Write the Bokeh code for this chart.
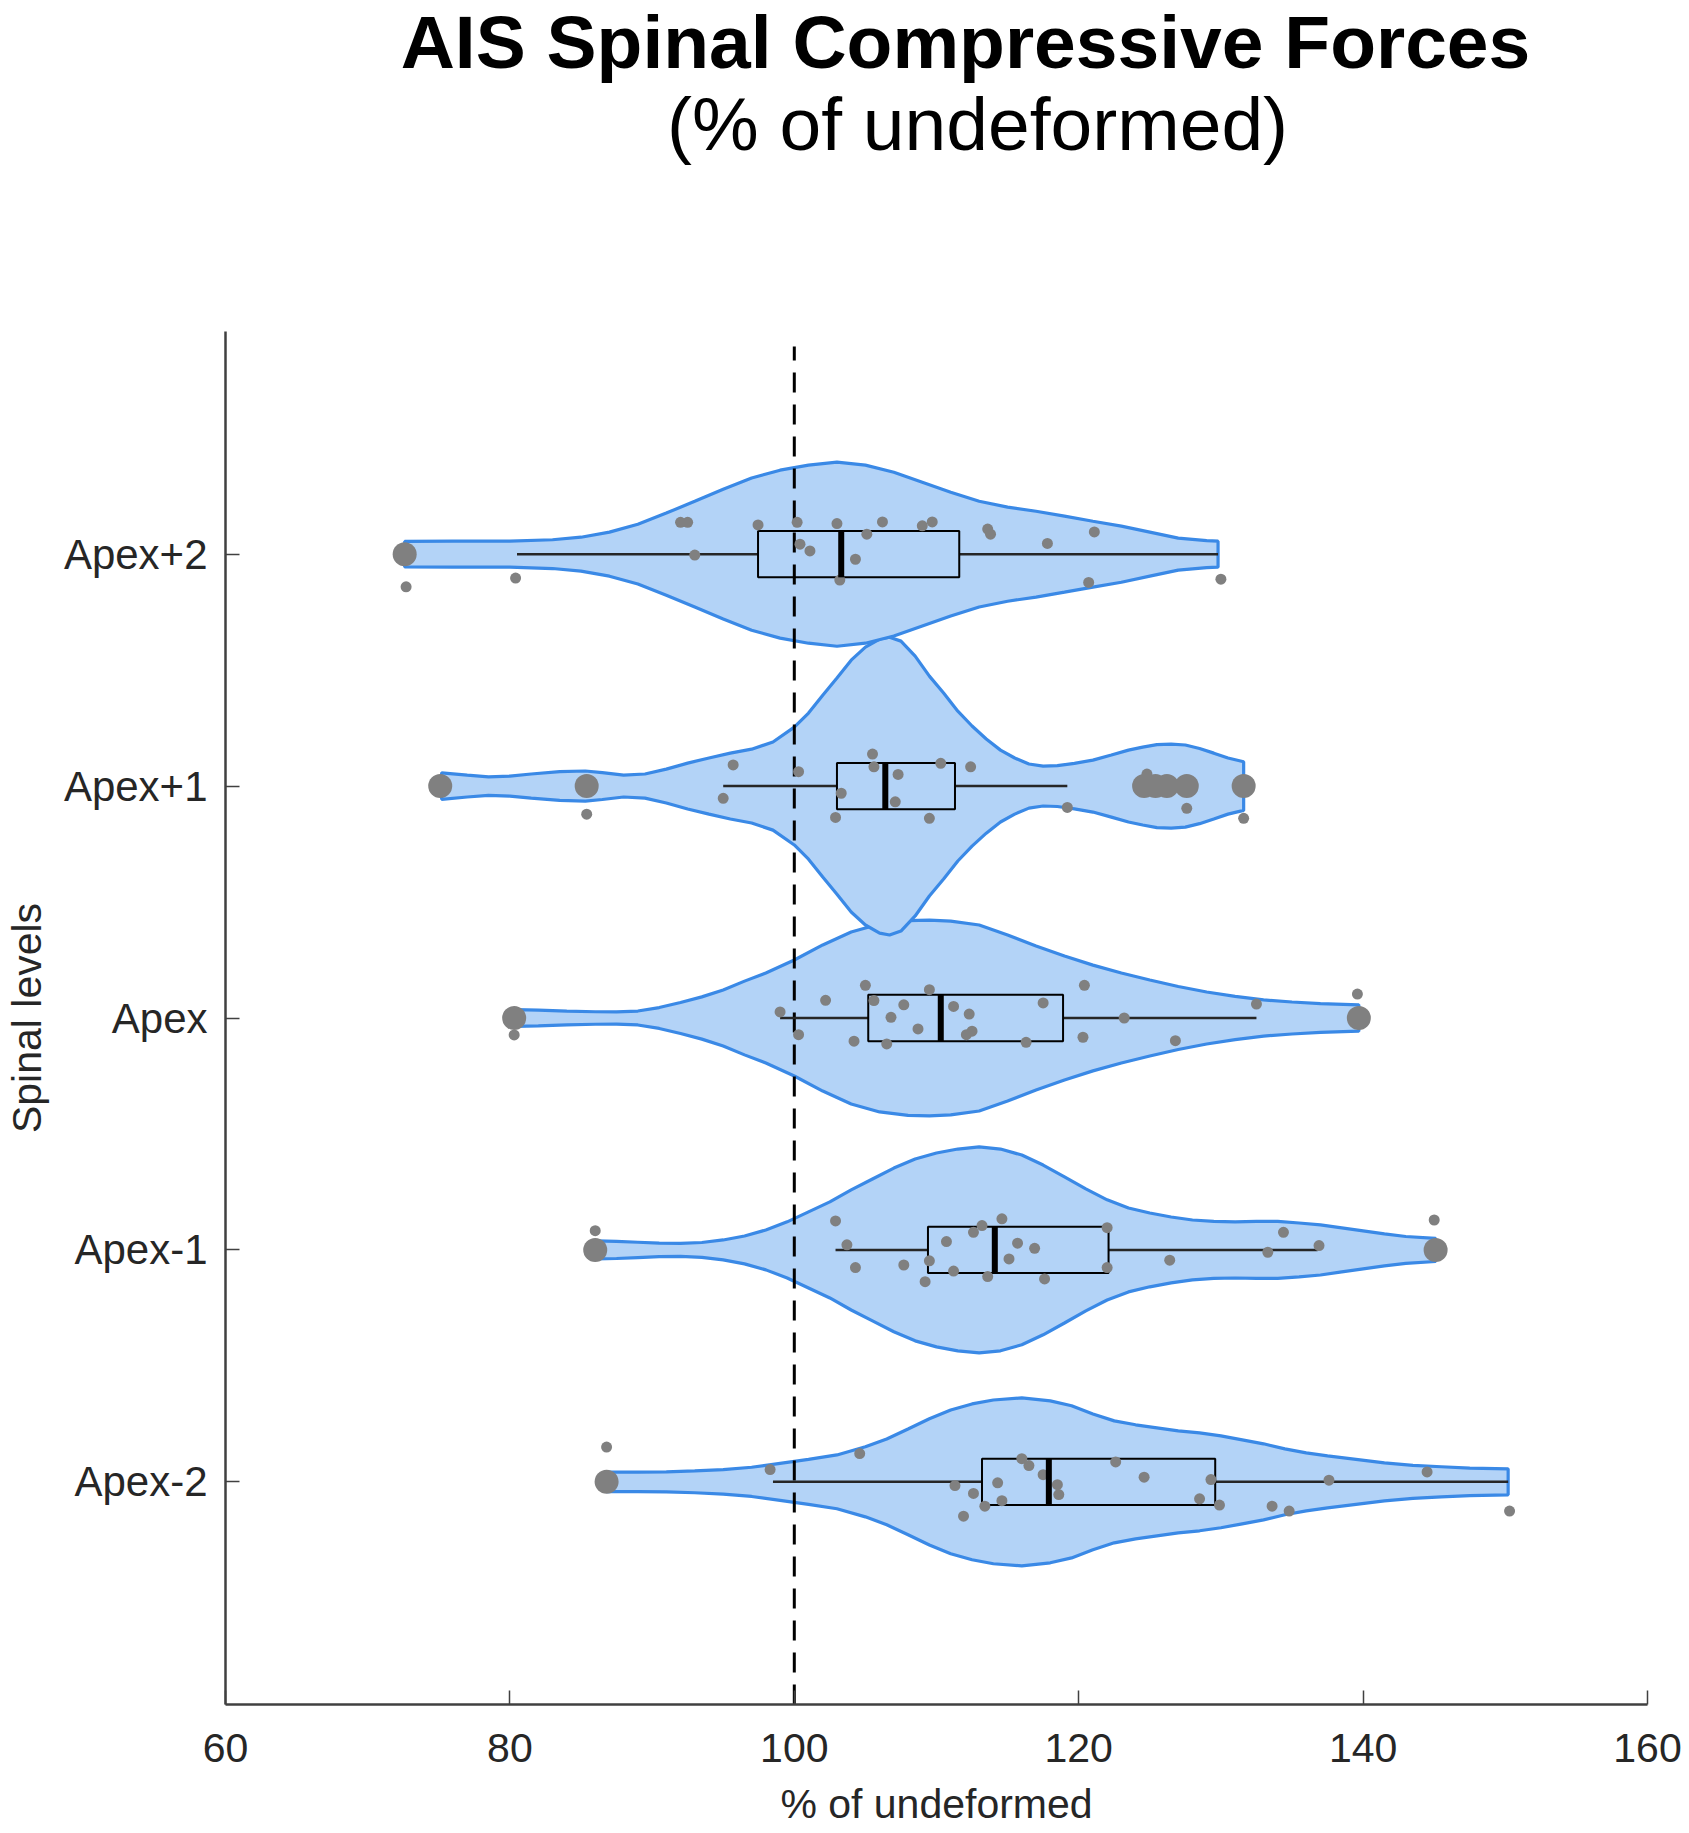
from bokeh.plotting import figure
from bokeh.layouts import column
from bokeh.models import FixedTicker
from bokeh.core.properties import value
from bokeh.embed import file_html
from bokeh.resources import INLINE

# ---------------- data ----------------
levels = ["Apex-2", "Apex-1", "Apex", "Apex+1", "Apex+2"]
level_pos = [1, 2, 3, 4, 5]
ref_value = 100

# violin profiles: value grid and half-width (y units)
prof_x_m2 = [86.8, 89, 91, 93, 95, 97, 99, 101, 103, 105, 106.5, 108, 109.5, 111, 112.5, 114, 116, 118, 119.5,
             121, 122.5, 124, 125.5, 127, 128.5, 130, 131.5, 133, 134.5, 136, 137.5, 139.5, 141.5, 143.5, 145.5,
             147.5, 150.2]
prof_w_m2 = [0.042, 0.042, 0.043, 0.047, 0.053, 0.063, 0.080, 0.097, 0.116, 0.151, 0.185, 0.228, 0.272, 0.310,
             0.336, 0.353, 0.362, 0.349, 0.328, 0.293, 0.263, 0.246, 0.233, 0.220, 0.211, 0.198, 0.181, 0.164,
             0.142, 0.125, 0.112, 0.097, 0.082, 0.071, 0.065, 0.059, 0.056]

prof_x_m1 = [86.1, 87.5, 89, 90.5, 92, 93.5, 95, 96.5, 98, 99.5, 101, 102.5, 104, 105.5, 107, 108.5, 110, 111.5,
             113, 114.5, 116, 117.5, 119, 120.5, 122, 123.5, 125, 126.5, 128, 129.5, 131, 132.5, 134, 135.5, 137,
             138.5, 140, 141.5, 143, 145.1]
prof_w_m1 = [0.039, 0.037, 0.033, 0.029, 0.028, 0.032, 0.043, 0.060, 0.086, 0.121, 0.164, 0.207, 0.259, 0.306,
             0.353, 0.392, 0.418, 0.435, 0.444, 0.435, 0.409, 0.366, 0.315, 0.263, 0.216, 0.181, 0.159, 0.142,
             0.129, 0.123, 0.121, 0.123, 0.123, 0.116, 0.108, 0.095, 0.082, 0.069, 0.058, 0.050]

prof_x_0 = [80.4, 82, 84, 86, 87.5, 89, 90.5, 92, 93.5, 95, 96.5, 98, 100, 102, 104, 106, 108, 109.5, 111, 113,
            115, 117, 119, 121, 123, 125, 127, 129, 131, 133, 135, 137, 139.7]
prof_w_0 = [0.036, 0.034, 0.030, 0.027, 0.026, 0.030, 0.045, 0.067, 0.091, 0.121, 0.159, 0.194, 0.250, 0.315,
            0.371, 0.405, 0.420, 0.422, 0.418, 0.401, 0.358, 0.310, 0.267, 0.228, 0.194, 0.164, 0.136, 0.112,
            0.093, 0.078, 0.069, 0.062, 0.057]

prof_x_p1 = [75.2, 77, 78.5, 80, 81.5, 83.5, 85.3, 86.5, 88, 89.5, 91, 92.5, 94, 95.5, 97, 98.5, 100, 101, 102,
             103, 104, 105, 106, 106.7, 107.5, 108.5, 109.5, 110.5, 111.5, 112.5, 113.5, 114.5, 115.5, 116.5,
             117.5, 118.5, 119.7, 121, 122.3, 123.5, 124.5, 125.5, 126.5, 127.5, 128.5, 129.5, 130.5, 131.6]
prof_w_p1 = [0.057, 0.047, 0.040, 0.043, 0.052, 0.062, 0.065, 0.058, 0.047, 0.052, 0.073, 0.099, 0.121, 0.142,
             0.159, 0.190, 0.254, 0.315, 0.392, 0.466, 0.543, 0.599, 0.634, 0.642, 0.625, 0.560, 0.474, 0.401,
             0.323, 0.259, 0.203, 0.155, 0.121, 0.095, 0.086, 0.088, 0.098, 0.112, 0.134, 0.155, 0.168, 0.179,
             0.181, 0.177, 0.162, 0.142, 0.121, 0.105]

prof_x_p2 = [72.6, 76, 80, 83, 85, 87, 89, 91, 93, 95, 97, 99, 101, 103, 105, 107, 109, 111, 113, 115, 117, 119,
             121, 123, 125, 127, 129, 129.8]
prof_w_p2 = [0.055, 0.056, 0.056, 0.062, 0.073, 0.095, 0.129, 0.177, 0.228, 0.280, 0.328, 0.362, 0.384, 0.397,
             0.384, 0.353, 0.310, 0.267, 0.228, 0.203, 0.185, 0.164, 0.142, 0.121, 0.095, 0.069, 0.058, 0.056]

# box-plot statistics
whisk_lo = [98.5, 102.9, 99.0, 95.0, 80.5]
q1 = [113.2, 109.4, 105.2, 103.0, 97.45]
median = [117.9, 114.1, 110.3, 106.4, 103.3]
q3 = [129.6, 122.1, 118.9, 111.3, 111.6]
whisk_hi = [150.2, 136.8, 132.5, 119.2, 129.8]

# outliers (value, level index)
out_val = [86.8, 86.0, 145.1, 80.3, 139.7, 75.1, 85.4, 124.6, 125.4, 126.2, 127.6, 131.6, 72.6]
out_lvl = [1, 2, 2, 3, 3, 4, 4, 4, 4, 4, 4, 4, 5]

# individual observations with vertical jitter
pts_m2 = [86.8, 98.3, 104.6, 111.3, 111.9, 112.6, 113.4, 114.3, 114.6, 116.0, 116.5, 117.5, 118.5, 118.6, 122.6,
          124.6, 128.5, 129.3, 129.9, 133.6, 134.8, 137.6, 144.5, 150.3]
jit_m2 = [0.150, 0.053, 0.122, -0.016, -0.148, -0.050, -0.105, -0.004, -0.081, 0.100, 0.070, 0.031, -0.012,
          -0.055, 0.086, 0.020, -0.073, 0.010, -0.100, -0.105, -0.126, 0.007, 0.043, -0.126]

pts_m1 = [86.0, 102.9, 103.7, 104.3, 107.7, 109.2, 109.5, 110.7, 111.2, 112.6, 113.2, 114.6, 113.6, 115.1, 115.7,
          116.9, 117.6, 122.0, 122.0, 126.4, 133.3, 134.4, 136.9, 145.0]
jit_m1 = [0.083, 0.125, 0.022, -0.076, -0.065, -0.137, -0.047, 0.036, -0.091, 0.076, 0.105, 0.134, -0.115,
          -0.039, 0.029, 0.007, -0.125, 0.096, -0.076, -0.044, -0.010, 0.076, 0.019, 0.129]

pts_0 = [80.3, 99.0, 100.3, 102.2, 105.0, 104.2, 105.6, 106.5, 106.8, 107.7, 108.7, 109.5, 111.2, 112.3, 112.1,
         112.5, 116.3, 117.5, 120.3, 120.4, 123.2, 126.8, 132.5, 139.6]
jit_0 = [-0.073, 0.026, -0.072, 0.076, 0.141, -0.100, 0.075, -0.112, 0.003, 0.057, -0.047, 0.122, 0.050, 0.017,
         -0.072, -0.057, -0.105, 0.065, -0.083, 0.141, 0.0, -0.098, 0.060, 0.103]

pts_p1 = [85.4, 95.7, 95.0, 100.3, 102.9, 103.3, 105.5, 105.6, 107.3, 107.1, 109.5, 110.3, 112.4, 119.2, 124.8,
          127.6, 131.6]
jit_p1 = [-0.121, 0.091, -0.053, 0.062, -0.135, -0.031, 0.138, 0.083, 0.050, -0.068, -0.139, 0.098, 0.083,
          -0.092, 0.052, -0.096, -0.139]

pts_p2 = [72.7, 80.4, 92.0, 92.5, 93.0, 97.45, 100.2, 100.4, 101.1, 103.0, 103.2, 104.3, 105.1, 106.2, 109.0,
          109.7, 113.6, 113.8, 117.8, 120.7, 121.1, 130.0]
jit_p2 = [-0.141, -0.103, 0.137, 0.137, -0.004, 0.126, 0.137, 0.043, 0.014, 0.132, -0.112, -0.022, 0.086, 0.139,
          0.122, 0.139, 0.108, 0.086, 0.046, -0.122, 0.096, -0.108]

x_ticks = [60, 80, 100, 120, 140, 160]
title_1 = "AIS Spinal Compressive Forces"
title_2 = "(% of undeformed)"
x_label = "% of undeformed"
y_label = "Spinal levels"

# ---------------- styles / layout ----------------
FONT = "Liberation Sans"
AX = "#262626"
AXLINE = "#404040"
VFILL = "#b3d3f7"
VLINE = "#3a89e6"
DOT = "#808080"
BOX_HALF = 0.1
W = 1685
TITLE_H = 331
BORDER_L, BORDER_R = 225, 38
Y_LO, Y_HI = 0.04, 5.96

# ---- title strip (separate figure, pixel-like coordinates, same side borders as the chart) ----
t = figure(width=W, height=TITLE_H, output_backend="svg", toolbar_location=None,
           x_range=(BORDER_L, W - BORDER_R), y_range=(0, TITLE_H), x_axis_type=None, y_axis_type=None,
           min_border_left=BORDER_L, min_border_right=BORDER_R, min_border_top=0, min_border_bottom=0)
t.outline_line_color = None
t.grid.visible = False
t.text(x=[965], y=[290], text=[title_1], text_font=value(FONT), text_font_size=value("75px"),
       text_font_style="bold", text_color="black", text_align="center", text_baseline="alphabetic")
t.text(x=[977], y=[208], text=[title_2], text_font=value(FONT), text_font_size=value("75px"),
       text_font_style="normal", text_color="black", text_align="center", text_baseline="alphabetic")

# ---- main chart ----
p = figure(width=W, height=1830 - TITLE_H, output_backend="svg", toolbar_location=None,
           x_range=(60, 160), y_range=(Y_LO, Y_HI),
           min_border_left=BORDER_L, min_border_right=BORDER_R, min_border_top=0, min_border_bottom=126)
p.outline_line_color = None
p.grid.visible = False
p.background_fill_color = "white"
p.border_fill_color = "white"

profiles = [(prof_x_m2, prof_w_m2), (prof_x_m1, prof_w_m1), (prof_x_0, prof_w_0),
            (prof_x_p1, prof_w_p1), (prof_x_p2, prof_w_p2)]
points = [(pts_m2, jit_m2), (pts_m1, jit_m1), (pts_0, jit_0), (pts_p1, jit_p1), (pts_p2, jit_p2)]

for pos, (px, pw) in zip(level_pos, profiles):
    xs = list(px) + list(px)[::-1]
    ys = [pos + w for w in pw] + [pos - w for w in pw][::-1]
    p.patch(xs, ys, fill_color=VFILL, fill_alpha=1.0, line_color=VLINE, line_width=3.2)

# reference line
p.segment(x0=[ref_value], x1=[ref_value], y0=[Y_LO], y1=[5.895], line_color="black",
          line_width=3, line_dash="20 12")

# boxes
p.segment(x0=whisk_lo, x1=q1, y0=level_pos, y1=level_pos, line_color=AX, line_width=2.5)
p.segment(x0=q3, x1=whisk_hi, y0=level_pos, y1=level_pos, line_color=AX, line_width=2.5)
p.quad(left=q1, right=q3, bottom=[v - BOX_HALF for v in level_pos], top=[v + BOX_HALF for v in level_pos],
       fill_alpha=0, line_color="black", line_width=2)

# observations
for pos, (vals, jit) in zip(level_pos, points):
    p.scatter(vals, [pos + j for j in jit], size=11, fill_color=DOT, line_color=None)

# outliers
p.scatter(out_val, out_lvl, size=24, fill_color=DOT, line_color=None)

# medians
p.segment(x0=median, x1=median, y0=[v - BOX_HALF for v in level_pos], y1=[v + BOX_HALF for v in level_pos],
          line_color="black", line_width=6)

# axes
p.xaxis.ticker = FixedTicker(ticks=x_ticks)
p.yaxis.ticker = FixedTicker(ticks=level_pos)
p.yaxis.major_label_overrides = {pos: name for pos, name in zip(level_pos, levels)}
for ax in (p.xaxis[0], p.yaxis[0]):
    ax.axis_line_color = AXLINE
    ax.axis_line_width = 2.5
    ax.major_tick_line_color = AXLINE
    ax.major_tick_line_width = 1.5
    ax.major_tick_in = 14
    ax.major_tick_out = 0
    ax.minor_tick_line_color = None
    ax.major_label_text_font = FONT
    ax.major_label_text_color = AX
    ax.axis_label_text_font = FONT
    ax.axis_label_text_font_size = "41px"
    ax.axis_label_text_font_style = "normal"
    ax.axis_label_text_color = AX
p.xaxis.major_label_text_font_size = "41px"
p.yaxis.major_label_text_font_size = "42px"
p.xaxis.axis_label = x_label
p.yaxis.axis_label = y_label
p.xaxis.major_label_standoff = 29
p.xaxis.axis_label_standoff = 16
p.yaxis.major_label_standoff = 18
p.yaxis.axis_label_standoff = 11

layout = column(t, p, spacing=0)
open("out.html", "w").write(file_html(layout, INLINE))
